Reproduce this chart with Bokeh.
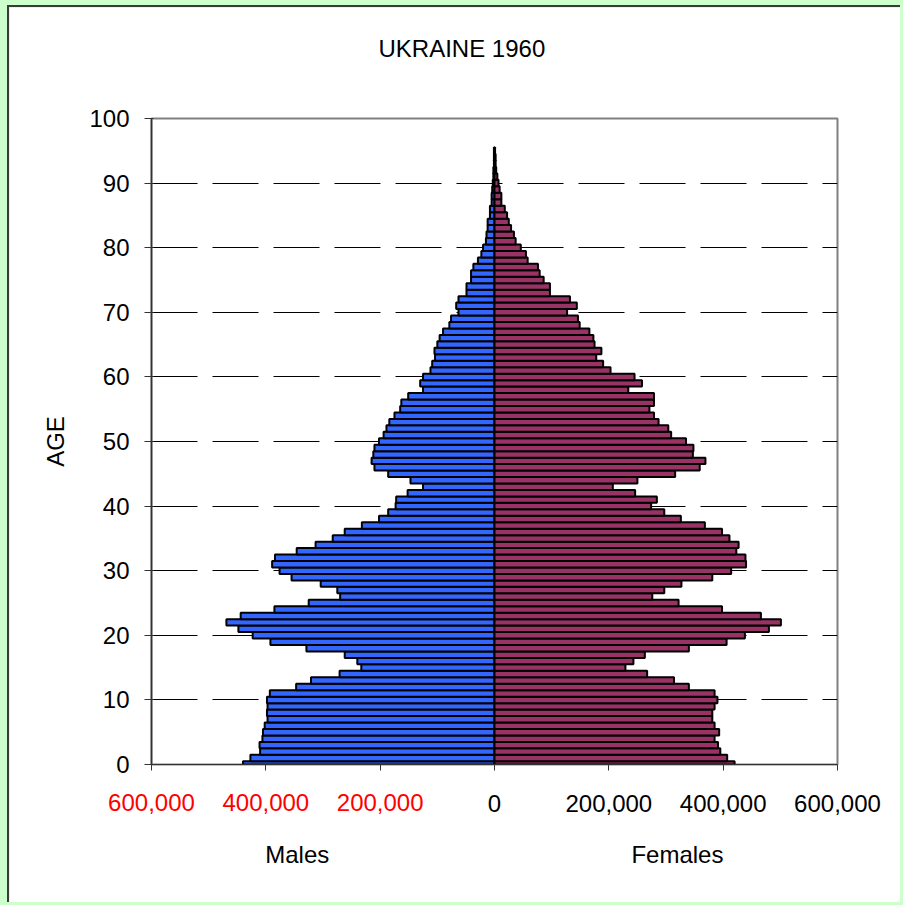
from bokeh.plotting import figure
from bokeh.models import Range1d, FixedTicker, LinearAxis, Title
from bokeh.embed import file_html
from bokeh.resources import INLINE

# ---------------- data ----------------
ages = list(range(0, 96))
males = [
    440000, 427000, 410000, 411000, 406000, 405000, 402000, 397000, 398000, 397000,
    398000, 393000, 347000, 321000, 271000, 233000, 240000, 262000, 329000, 392000,
    423000, 448000, 469000, 444000, 385000, 325000, 270000, 275000, 304000, 355000,
    376000, 389000, 384000, 346000, 313000, 283000, 262000, 232000, 202000, 186000,
    173000, 172000, 152000, 125000, 147000, 186000, 210000, 215000, 212000, 210000,
    202000, 194000, 189000, 184000, 175000, 165000, 163000, 151000, 125000, 130000,
    125000, 112000, 109000, 104000, 105000, 100000, 96000, 90000, 79000, 76000,
    63000, 67000, 63000, 49000, 49000, 41000, 41000, 37000, 29000, 23000,
    20000, 15000, 14000, 12000, 12000, 8000, 8000, 5000, 5000, 4000,
    3000, 2000, 2000, 1000, 1000, 1000,
]
females = [
    420000, 407000, 395000, 391000, 385000, 393000, 385000, 381000, 381000, 385000,
    390000, 385000, 340000, 314000, 267000, 229000, 243000, 263000, 340000, 406000,
    438000, 480000, 501000, 466000, 398000, 322000, 276000, 297000, 327000, 381000,
    414000, 440000, 439000, 423000, 427000, 411000, 398000, 368000, 326000, 297000,
    274000, 284000, 246000, 207000, 250000, 316000, 359000, 369000, 347000, 348000,
    335000, 309000, 304000, 287000, 279000, 271000, 279000, 279000, 234000, 258000,
    245000, 203000, 190000, 178000, 187000, 175000, 173000, 166000, 149000, 146000,
    127000, 144000, 132000, 97000, 97000, 86000, 79000, 76000, 58000, 55000,
    46000, 37000, 34000, 29000, 25000, 22000, 18000, 12000, 12000, 9000,
    7000, 5000, 3000, 2000, 2000, 1000,
]
x_ticks = [-600000, -400000, -200000, 0, 200000, 400000, 600000]
x_tick_labels = ["600,000", "400,000", "200,000", "0", "200,000", "400,000", "600,000"]
y_ticks = [0, 10, 20, 30, 40, 50, 60, 70, 80, 90, 100]
title_text = "UKRAINE 1960"
group_names = ["Males", "Females"]
group_centres = [-345000, 320000]
y_label = "AGE"

FONT = "Liberation Sans"
FS = "24px"

p = figure(width=893, height=897, output_backend="svg", toolbar_location=None,
           x_range=Range1d(-600000, 600000), y_range=Range1d(0, 100),
           min_border_left=142, min_border_right=65, min_border_top=111,
           min_border_bottom=140)
p.title_location = None
p.background_fill_color = "white"
p.border_fill_color = "white"
p.outline_line_color = "#808080"
p.outline_line_width = 2
p.styles = {"border-left": "2px solid #3a3a3a", "border-top": "2px solid #3a3a3a"}

# keep explicit handles on the default axes before adding more
xa = p.below[0]
ya = p.left[0]

# bars
neg_males = [-m for m in males]
p.hbar(y=ages, left=neg_males, right=0, height=1, fill_color="#3366FF",
       line_color="black", line_width=2)
p.hbar(y=ages, left=0, right=females, height=1, fill_color="#993366",
       line_color="black", line_width=2)

# grid
p.xgrid.visible = False
p.ygrid.ticker = FixedTicker(ticks=y_ticks[1:-1])
p.ygrid.grid_line_color = "black"
p.ygrid.grid_line_width = 1
p.ygrid.grid_line_dash = "46 15"

# y axis
ya.ticker = FixedTicker(ticks=y_ticks)
ya.minor_tick_line_color = None
ya.major_tick_in = 2
ya.major_tick_out = 7
ya.axis_line_color = "#333333"
ya.axis_line_width = 1.5
ya.major_tick_line_color = "#333333"
ya.major_label_text_font = FONT
ya.major_label_text_font_size = FS
ya.major_label_text_color = "black"
ya.major_label_standoff = 15
ya.axis_label = y_label
ya.axis_label_text_font = FONT
ya.axis_label_text_font_size = FS
ya.axis_label_text_font_style = "normal"
ya.axis_label_text_color = "black"
ya.axis_label_standoff = 17

# x axis: ticks + black labels (0 and positive side)
xa.ticker = FixedTicker(ticks=x_ticks)
xa.minor_tick_line_color = None
xa.major_tick_in = 0
xa.major_tick_out = 6
xa.axis_line_color = "#333333"
xa.major_tick_line_color = "#333333"
xa.major_label_text_font = FONT
xa.major_label_text_font_size = FS
xa.major_label_text_color = "black"
xa.major_label_standoff = 24
xa.major_label_overrides = {t: ("" if t < 0 else s) for t, s in zip(x_ticks, x_tick_labels)}

# red labels for the male side, pulled up into the same row
neg_ticks = [t for t in x_ticks if t < 0]
red_axis = LinearAxis(
    ticker=FixedTicker(ticks=neg_ticks),
    major_label_overrides={t: s for t, s in zip(x_ticks, x_tick_labels) if t < 0},
    axis_line_color=None, major_tick_line_color=None, minor_tick_line_color=None,
    major_tick_in=0, major_tick_out=0,
    major_label_text_font=FONT, major_label_text_font_size=FS,
    major_label_text_color="red", major_label_standoff=-21,
)
p.add_layout(red_axis, "below")

# group names
group_axis = LinearAxis(
    ticker=FixedTicker(ticks=group_centres),
    major_label_overrides={c: n for c, n in zip(group_centres, group_names)},
    axis_line_color=None, major_tick_line_color=None, minor_tick_line_color=None,
    major_tick_in=0, major_tick_out=0,
    major_label_text_font=FONT, major_label_text_font_size=FS,
    major_label_text_color="black", major_label_standoff=26,
)
p.add_layout(group_axis, "below")

# invisible spacer next to the frame, then the title outside it
spacer = LinearAxis(ticker=FixedTicker(ticks=[0]), axis_line_color=None,
                    major_tick_line_color=None, minor_tick_line_color=None,
                    major_tick_out=52, minor_tick_out=0, major_tick_in=0,
                    major_label_standoff=0, axis_label_standoff=0,
                    major_label_overrides={0: ""},
                    major_label_text_font_size="1px")
p.add_layout(spacer, "above")

title = Title(text=title_text, align="left", offset=227, standoff=10,
              text_font=FONT, text_font_size=FS, text_font_style="normal",
              text_color="black")
p.add_layout(title, "above")

html = file_html(p, INLINE)
html = html.replace(
    "</head>",
    "<style>html, body { background: #CCFFCC; } body { padding: 5px 0 0 7px; }</style></head>",
    1)
open("out.html", "w").write(html)
